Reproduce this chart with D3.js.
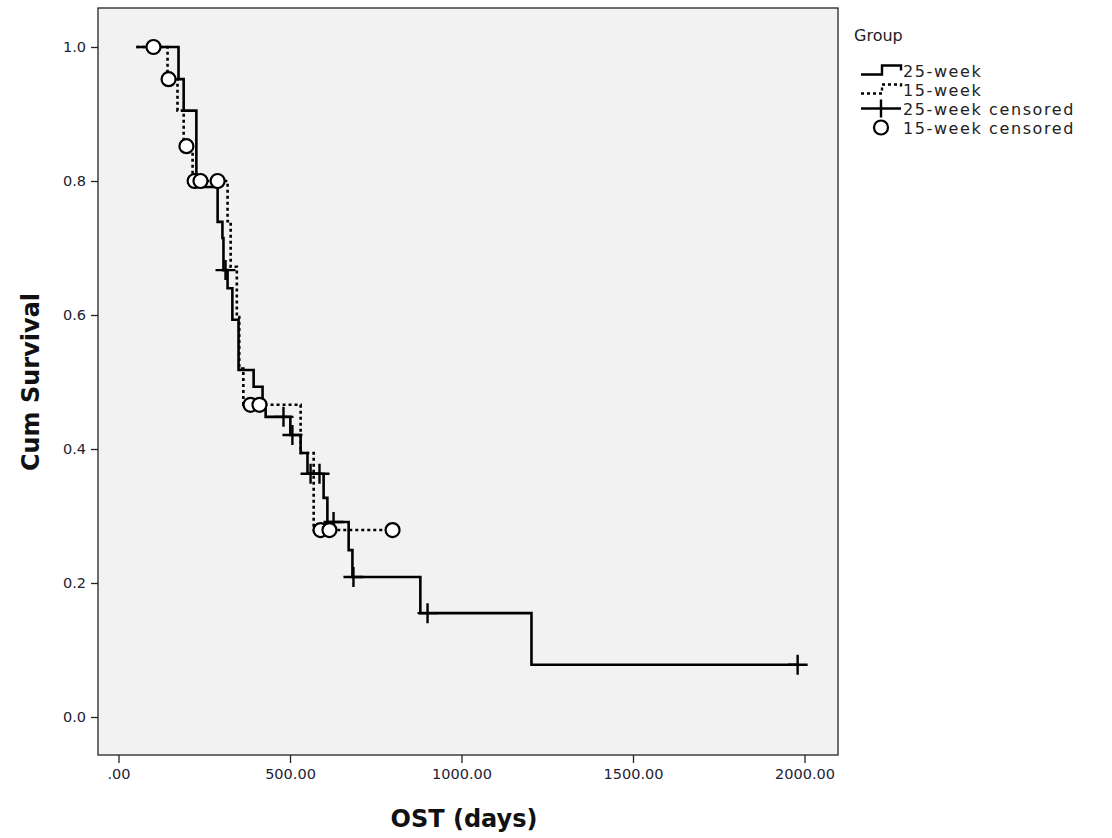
<!DOCTYPE html>
<html><head><meta charset="utf-8">
<script src="https://cdn.jsdelivr.net/npm/d3@7"></script>
<style>body{margin:0;background:#fff}svg{display:block}text{font-family:"DejaVu Sans",sans-serif}</style>
</head><body>
<svg id="c" width="1112" height="838"></svg>
<script>
// 25-week group: step times (days) and survival after each step
const time25 = [52, 175, 190, 227, 289, 303, 306, 318, 332, 350, 394, 420, 429, 501, 531, 551, 598, 609, 671, 682, 880, 1204];
const surv25 = [1.0, 0.952, 0.905, 0.791, 0.739, 0.715, 0.667, 0.640, 0.593, 0.518, 0.493, 0.470, 0.448, 0.421, 0.394, 0.363, 0.327, 0.291, 0.249, 0.209, 0.155, 0.078];
const end25 = 1980;
const censor25 = [312, 481, 507, 560, 586, 627, 685, 901, 1980];
// 15-week group
const time15 = [52, 143, 172, 190, 216, 318, 327, 345, 352, 364, 531, 569];
const surv15 = [1.0, 0.952, 0.905, 0.852, 0.800, 0.740, 0.672, 0.597, 0.520, 0.466, 0.394, 0.279];
const end15 = 799;
const censor15 = [102, 146, 198, 222, 239, 289, 385, 411, 589, 615, 799];
// ticks
const xTicks = [0, 500, 1000, 1500, 2000];
const yTicks = [0, 0.2, 0.4, 0.6, 0.8, 1.0];
const legendLabels = ["25-week", "15-week", "25-week censored", "15-week censored"];

const svg = d3.select("#c");
const F = {l: 98, t: 8, r: 838, b: 755};
const x = d3.scaleLinear().domain([0, 2000]).range([118.5, 804.5]);
const y = d3.scaleLinear().domain([0, 1]).range([717, 47]);

svg.append("rect").attr("x", F.l).attr("y", F.t).attr("width", F.r - F.l).attr("height", F.b - F.t)
  .attr("fill", "#f2f2f2").attr("stroke", "#222").attr("stroke-width", 1.3);

const yAx = svg.append("g").attr("transform", `translate(${F.l},0)`)
  .call(d3.axisLeft(y).tickValues(yTicks).tickFormat(d3.format(".1f")).tickSize(7).tickPadding(5));
const xAx = svg.append("g").attr("transform", `translate(0,${F.b})`)
  .call(d3.axisBottom(x).tickValues(xTicks).tickFormat(d => d === 0 ? ".00" : d.toFixed(2)).tickSize(8).tickPadding(6));
[yAx, xAx].forEach(g => {
  g.select(".domain").remove();
  g.selectAll(".tick line").attr("stroke", "#222").attr("stroke-width", 1.3);
  g.selectAll(".tick text").attr("fill", "#222233").style("font-size", "14.5px").style("font-family", "DejaVu Sans, sans-serif");
});

svg.append("text").attr("transform", "translate(39,382) rotate(-90)").attr("text-anchor", "middle")
  .style("font-size", "24px").style("font-weight", "bold").attr("fill", "#111").text("Cum Survival");
svg.append("text").attr("x", 464).attr("y", 827).attr("text-anchor", "middle")
  .style("font-size", "24px").style("font-weight", "bold").attr("fill", "#111").text("OST (days)");

function stepPts(ts, ss, end) {
  const p = ts.map((t, i) => [t, ss[i]]);
  p.push([end, ss[ss.length - 1]]);
  return p;
}
function survAt(ts, ss, t) {
  let s = ss[0];
  for (let i = 0; i < ts.length; i++) if (ts[i] <= t) s = ss[i];
  return s;
}
const line = d3.line().x(d => x(d[0])).y(d => y(d[1])).curve(d3.curveStepAfter);

svg.append("path").attr("d", line(stepPts(time25, surv25, end25))).attr("fill", "none")
  .attr("stroke", "#000").attr("stroke-width", 2.6);
svg.append("path").attr("d", line(stepPts(time15, surv15, end15))).attr("fill", "none")
  .attr("stroke", "#000").attr("stroke-width", 2.6).attr("stroke-dasharray", "3,3");

const pl = svg.append("g");
censor25.forEach(t => {
  const cx = x(t), cy = y(survAt(time25, surv25, t));
  pl.append("path").attr("d", `M${cx - 10},${cy}H${cx + 10}M${cx},${cy - 10}V${cy + 10}`)
    .attr("stroke", "#000").attr("stroke-width", 2.4).attr("fill", "none");
});
censor15.forEach(t => {
  svg.append("circle").attr("cx", x(t)).attr("cy", y(survAt(time15, surv15, t))).attr("r", 7)
    .attr("fill", "#fff").attr("stroke", "#000").attr("stroke-width", 2.2);
});

// legend
const lg = svg.append("g");
lg.append("text").attr("x", 854).attr("y", 41).style("font-size", "16px").attr("fill", "#222").text("Group");
const rowsY = [70.5, 89.5, 108.5, 127.5];
const lx = 861;
lg.append("path").attr("d", `M${lx},${rowsY[0] + 4}H${lx + 21}V${rowsY[0] - 5}H${lx + 40}V${rowsY[0]}`)
  .attr("fill", "none").attr("stroke", "#000").attr("stroke-width", 2.4);
lg.append("path").attr("d", `M${lx},${rowsY[1] + 4}H${lx + 21}V${rowsY[1] - 5}H${lx + 40}V${rowsY[1]}`)
  .attr("fill", "none").attr("stroke", "#000").attr("stroke-width", 2.4).attr("stroke-dasharray", "3,3");
lg.append("path").attr("d", `M${lx},${rowsY[2]}H${lx + 40}M${lx + 20},${rowsY[2] - 9}V${rowsY[2] + 9}`)
  .attr("fill", "none").attr("stroke", "#000").attr("stroke-width", 2.4);
lg.append("circle").attr("cx", lx + 20).attr("cy", rowsY[3]).attr("r", 7)
  .attr("fill", "#fff").attr("stroke", "#000").attr("stroke-width", 2.2);
legendLabels.forEach((s, i) => {
  lg.append("text").attr("x", 903).attr("y", rowsY[i] + 6).style("font-size", "16px")
    .style("letter-spacing", "1.6px").attr("fill", "#222").text(s);
});
</script>
</body></html>
